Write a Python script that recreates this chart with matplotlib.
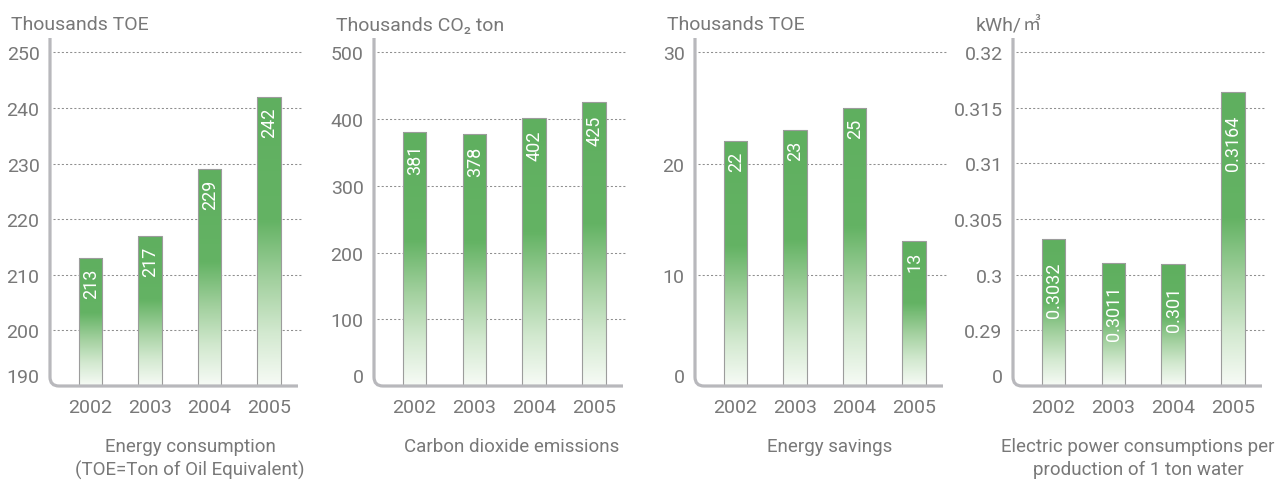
import numpy as np
import matplotlib
matplotlib.use("Agg")
import matplotlib.pyplot as plt
from matplotlib.colors import LinearSegmentedColormap
from matplotlib.path import Path
from matplotlib.patches import PathPatch

# ---- data -------------------------------------------------------------
years = ["2002", "2003", "2004", "2005"]

consumption = [213, 217, 229, 242]
consumption_ticks = [190, 200, 210, 220, 230, 240, 250]

emissions = [381, 378, 402, 425]
emissions_ticks = [0, 100, 200, 300, 400, 500]

savings = [22, 23, 25, 13]
savings_ticks = [0, 10, 20, 30]

power = [0.3032, 0.3011, 0.301, 0.3164]
power_ticks = [0, 0.29, 0.3, 0.305, 0.31, 0.315, 0.32]
power_tick_labels = ["0", "0.29", "0.3", "0.305", "0.31", "0.315", "0.32"]

# ---- style ------------------------------------------------------------
plt.rcParams["font.family"] = ["Roboto", "Noto Sans CJK KR", "DejaVu Sans"]
TEXT = "#787878"
AXIS = "#b8b8bc"
GRID = "#8f8f8f"
EDGE = "#9c9c9c"

bar_cmap = LinearSegmentedColormap.from_list(
    "bar_fade",
    [(0.0, "#f7fbf6"), (0.18, "#d3e9d0"), (0.36, "#a4d1a0"),
     (0.57, "#64b364"), (1.0, "#5faf5f")])

W, H = 1283, 481
fig = plt.figure(figsize=(W / 100, H / 100), dpi=100)
fig.patch.set_facecolor("white")

AX_BOTTOM, AX_HEIGHT = 94, 348
X_LIM = (-0.68, 3.49)
BAR_W = 0.395
UNIT_BASELINE = 30.5


def piecewise_scale(ticks):
    t = np.asarray(ticks, float)
    idx = np.arange(len(t), dtype=float)

    def fwd(v):
        v = np.asarray(v, float)
        u = np.interp(v, t, idx)
        u = np.where(v > t[-1], idx[-1] + (v - t[-1]) / (t[-1] - t[-2]), u)
        u = np.where(v < t[0], (v - t[0]) / (t[1] - t[0]), u)
        return u

    def inv(u):
        u = np.asarray(u, float)
        v = np.interp(u, idx, t)
        v = np.where(u > idx[-1], t[-1] + (u - idx[-1]) * (t[-1] - t[-2]), v)
        v = np.where(u < 0, t[0] + u * (t[1] - t[0]), v)
        return v

    return fwd, inv


def draw_panel(left_px, width_px, values, ticks, tick_labels, ytop,
               unit, unit_x, caption_lines, caption_x, label_drop,
               scale=None):
    ax = fig.add_axes([left_px / W, AX_BOTTOM / H, width_px / W, AX_HEIGHT / H])
    if scale is not None:
        ax.set_yscale("function", functions=scale)
    ax.set_xlim(*X_LIM)
    ax.set_ylim(ticks[0], ytop)
    for s in ax.spines.values():
        s.set_visible(False)
    ax.patch.set_alpha(0)

    x = np.arange(len(years))
    base = ticks[0]
    heights = [v - base for v in values]

    # dotted grid lines
    ax.hlines(ticks[1:], 0.012, 1.012, transform=ax.get_yaxis_transform(),
              colors=GRID, linestyles=(0, (2, 2)), linewidth=0.75,
              clip_on=False, zorder=1)

    # bar outlines
    bars = ax.bar(x, heights, width=BAR_W, bottom=base, facecolor="none",
                  edgecolor=EDGE, linewidth=0.8, zorder=3)

    # vertical colour fade inside each bar
    to_axes = ax.transAxes.inverted()
    grad = np.linspace(0, 1, 256).reshape(-1, 1)
    for xi, v, bar in zip(x, values, bars):
        (fx0, _), (fx1, fy1) = to_axes.transform(
            ax.transData.transform([(xi - BAR_W / 2, base), (xi + BAR_W / 2, v)]))
        im = ax.imshow(grad, cmap=bar_cmap, origin="lower", aspect="auto",
                       interpolation="bilinear",
                       extent=[fx0, fx1, 0, fy1], transform=ax.transAxes,
                       zorder=2)
        im.set_clip_path(bar)

    # value labels inside the bars
    for xi, v in zip(x, values):
        ax.annotate(f"{v}", xy=(xi, v), xytext=(0.5, -label_drop),
                    textcoords="offset points", rotation=90, ha="center",
                    va="top", color="white", fontsize=13, zorder=4)

    # axis line with rounded corner
    r = 9
    rx, ry = r / width_px, r / AX_HEIGHT
    path = Path([(0, 1), (0, ry), (0, 0), (rx, 0), (1, 0)],
                [Path.MOVETO, Path.LINETO, Path.CURVE3, Path.CURVE3, Path.LINETO])
    ax.add_patch(PathPatch(path, transform=ax.transAxes, fill=False,
                           edgecolor=AXIS, linewidth=2.3, clip_on=False,
                           zorder=5))

    # ticks
    ax.set_yticks(ticks, tick_labels)
    ax.set_xticks(x, years)
    ax.tick_params(axis="both", length=0, labelsize=14, labelcolor=TEXT)
    ax.tick_params(axis="y", pad=7.5)
    ax.tick_params(axis="x", pad=9)
    ax.get_yticklabels()[0].set_va("bottom")

    ax.set_xlim(*X_LIM)
    ax.set_ylim(ticks[0], ytop)

    # unit (a trailing unit sign is set in a smaller size) and caption
    main, small = unit if isinstance(unit, tuple) else (unit, "")
    t = fig.text(unit_x / W, 1 - UNIT_BASELINE / H, main, ha="left",
                 va="baseline", fontsize=14, color=TEXT)
    if small:
        bb = t.get_window_extent(fig.canvas.get_renderer())
        fig.text((bb.x1 + 0.5) / W, 1 - UNIT_BASELINE / H, small, ha="left",
                 va="baseline", fontsize=13, color=TEXT,
                 family=["Noto Sans CJK KR", "DejaVu Sans"])
    for i, line in enumerate(caption_lines):
        fig.text(caption_x / W, 1 - (447 + 23 * i) / H, line, ha="center",
                 va="center", fontsize=13.5, color=TEXT)
    return ax


draw_panel(50, 248, consumption, consumption_ticks,
           [str(t) for t in consumption_ticks], 252.57,
           "Thousands TOE", 11,
           ["Energy consumption", "(TOE=Ton of Oil Equivalent)"], 190, 7)

draw_panel(374, 249, emissions, emissions_ticks,
           [str(t) for t in emissions_ticks], 521.4,
           "Thousands CO\u2082 ton", 336,
           ["Carbon dioxide emissions"], 512, 8.5)

draw_panel(695, 248, savings, savings_ticks,
           [str(t) for t in savings_ticks], 31.29,
           "Thousands TOE", 667,
           ["Energy savings"], 830, 7)

draw_panel(1013, 249, power, power_ticks, power_tick_labels, 0.32128,
           ("kWh/", "\u33a5"), 976,
           ["Electric power consumptions per", "production of 1 ton water"],
           1138, 16, scale=piecewise_scale(power_ticks))

fig.savefig("out.png", dpi=100, facecolor="white")
